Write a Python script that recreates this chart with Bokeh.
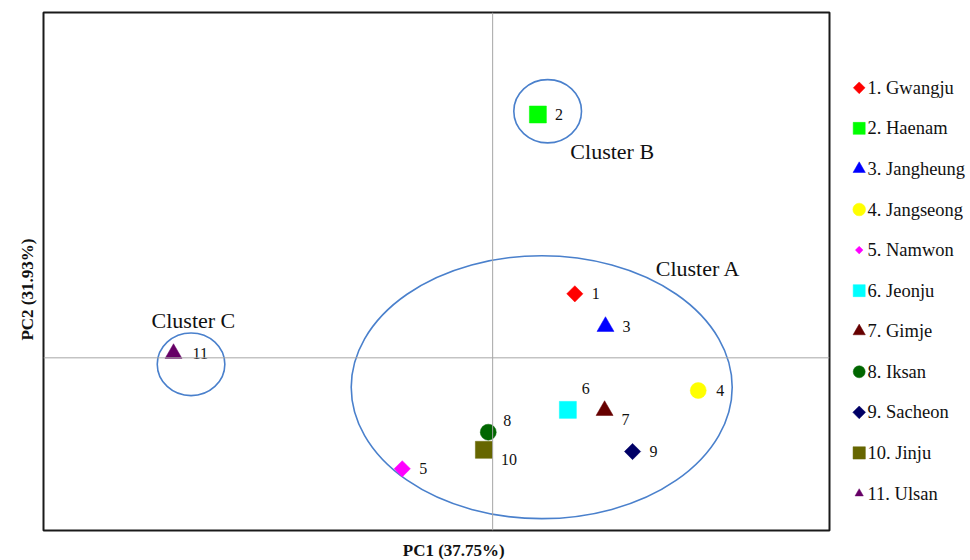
import math
from bokeh.plotting import figure
from bokeh.models import Range1d, Span, ColumnDataSource
from bokeh.layouts import row, column
from bokeh.embed import file_html
from bokeh.resources import INLINE
from bokeh.core.properties import value

# ---------------- data ----------------
site_ids = ["1", "2", "3", "4", "5", "6", "7", "8", "9", "10", "11"]
site_names = ["Gwangju", "Haenam", "Jangheung", "Jangseong", "Namwon", "Jeonju",
              "Gimje", "Iksan", "Sacheon", "Jinju", "Ulsan"]
pc1 = [0.732, 0.403, 1.005, 1.831, -0.805, 0.670, 0.997, -0.039, 1.246, -0.078, -2.842]
pc2 = [0.556, 2.114, 0.272, -0.284, -0.964, -0.452, -0.458, -0.646, -0.814, -0.799, 0.037]
shapes = ["diamond", "square", "triangle", "circle", "diamond", "square",
          "triangle", "circle", "diamond", "square", "triangle"]
colors = ["#FF0000", "#00FF00", "#0000FF", "#FFFF00", "#FF00FF", "#00FFFF",
          "#660000", "#006600", "#000066", "#666600", "#660066"]

cluster_names = ["Cluster A", "Cluster B", "Cluster C"]
cluster_x = [0.437, 0.490, -2.686]
cluster_y = [-0.255, 2.142, -0.056]
cluster_w = [3.393, 0.603, 0.602]
cluster_h = [2.285, 0.550, 0.545]
cluster_label_x = [1.831, 1.065, -2.665]
cluster_label_y = [0.773, 1.795, 0.324]

x_title = "PC1 (37.75%)"
y_title = "PC2 (31.93%)"
x_title_pos = -0.346   # along PC1, where the title is centred
y_title_pos = 0.593    # along PC2, where the title is centred

# ---------------- styles ----------------
FONT = "Liberation Serif"
TXT = "#111111"
shape_marker = {"diamond": "square", "square": "square", "triangle": "triangle", "circle": "circle"}
shape_angle = {"diamond": math.pi / 4, "square": 0.0, "triangle": 0.0, "circle": 0.0}
shape_size = {"diamond": 11.5, "square": 17, "triangle": 17, "circle": 16}
legend_sizes = [8.3, 12, 12.3, 12.7, 5.4, 12, 12.3, 12, 9, 12.3, 8.3]
label_dx = [17, 17, 17, 18, 17, 14, 17, 15, 17, 17, 19]
label_dy = [0, 0, 0, 0, 0, -21, 9, -12, 0, 10, 0]


def bare(fig):
    fig.grid.visible = False
    fig.outline_line_color = None
    return fig


src = ColumnDataSource(dict(
    x=pc1, y=pc2, ids=site_ids, color=colors,
    marker=[shape_marker[s] for s in shapes],
    angle=[shape_angle[s] for s in shapes],
    size=[shape_size[s] for s in shapes],
    dx=label_dx, dy=label_dy,
))

# ---------------- main plot ----------------
p = figure(width=799, height=532, x_range=Range1d(-4, 3), y_range=Range1d(-1.5, 3),
           output_backend="svg", toolbar_location=None,
           x_axis_location=None, y_axis_location=None,
           min_border_left=2, min_border_right=11, min_border_top=12, min_border_bottom=2,
           background_fill_color="white", border_fill_color="white")
p.grid.visible = False
p.outline_line_color = "#1a1a1a"
p.outline_line_width = 2

p.add_layout(Span(location=0, dimension="height", line_color="#a6a6a6", line_width=1))
p.add_layout(Span(location=0, dimension="width", line_color="#a6a6a6", line_width=1))

p.ellipse(x=cluster_x, y=cluster_y, width=cluster_w, height=cluster_h,
          fill_alpha=0, line_color="#4a80cc", line_width=1.6)

p.scatter(x="x", y="y", marker="marker", size="size", angle="angle",
          fill_color="color", line_color="color", line_width=0.5, source=src)

p.text(x="x", y="y", text="ids", x_offset="dx", y_offset="dy", source=src,
       text_font=value(FONT), text_font_size="16px", text_color=TXT,
       text_align="left", text_baseline="middle")

p.text(x=cluster_label_x, y=cluster_label_y, text=cluster_names,
       text_font=value(FONT), text_font_size="22px", text_color=TXT,
       text_align="center", text_baseline="middle")

# ---------------- x-axis title strip (shares PC1 scale) ----------------
xt = bare(figure(width=799, height=28, x_range=p.x_range, y_range=Range1d(0, 1),
                 output_backend="svg", toolbar_location=None,
                 x_axis_location=None, y_axis_location=None,
                 min_border_left=2, min_border_right=11, min_border_top=0, min_border_bottom=0,
                 background_fill_color="white", border_fill_color="white"))
xt.text(x=[x_title_pos], y=[0.36], text=[x_title],
        text_font=value(FONT), text_font_size="17px", text_font_style="bold",
        text_color=TXT, text_align="center", text_baseline="middle")

# ---------------- y-axis title strip (shares PC2 scale) ----------------
yt = bare(figure(width=41, height=560, x_range=Range1d(0, 41), y_range=p.y_range,
                 output_backend="svg", toolbar_location=None,
                 x_axis_location=None, y_axis_location=None,
                 min_border_left=0, min_border_right=0, min_border_top=12, min_border_bottom=30,
                 background_fill_color="white", border_fill_color="white"))
yt.text(x=[27], y=[y_title_pos], text=[y_title], angle=math.pi / 2,
        text_font=value(FONT), text_font_size="17px", text_font_style="bold",
        text_color=TXT, text_align="center", text_baseline="middle")

# ---------------- legend panel ----------------
n = len(site_names)
leg_src = ColumnDataSource(dict(
    x=[18.7] * n, tx=[27] * n, y=list(range(n)),
    label=[f"{i}. {nm}" for i, nm in zip(site_ids, site_names)],
    color=colors,
    marker=[shape_marker[s] for s in shapes],
    angle=[shape_angle[s] for s in shapes],
    size=legend_sizes,
))
leg = bare(figure(width=130, height=560, x_range=Range1d(0, 130), y_range=Range1d(10.912, -1.856),
                  output_backend="svg", toolbar_location=None,
                  x_axis_location=None, y_axis_location=None,
                  min_border_left=0, min_border_right=0, min_border_top=12, min_border_bottom=30,
                  background_fill_color="white", border_fill_color="white"))
leg.scatter(x="x", y="y", marker="marker", size="size", angle="angle",
            fill_color="color", line_color="color", line_width=0.5, source=leg_src)
leg.text(x="tx", y="y", text="label", source=leg_src,
         text_font=value(FONT), text_font_size="18.5px", text_color=TXT,
         text_align="left", text_baseline="middle")

layout = row(yt, column(p, xt), leg)
open("out.html", "w").write(file_html(layout, INLINE))
